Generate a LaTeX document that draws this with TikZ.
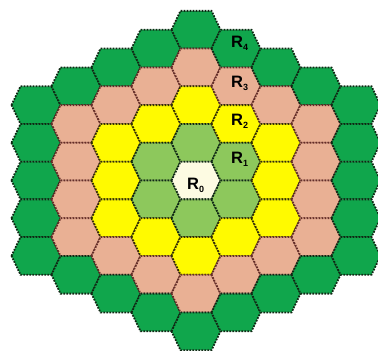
\documentclass[tikz,border=0pt]{standalone}
\usepackage{fontspec}
\setsansfont{Liberation Sans}
\definecolor{ringA}{RGB}{253,251,226}
\definecolor{ringB}{RGB}{141,200,92}
\definecolor{ringC}{RGB}{255,250,0}
\definecolor{ringD}{RGB}{233,176,148}
\definecolor{ringE}{RGB}{16,166,76}
\definecolor{edgeG}{RGB}{15,40,20}
\definecolor{edgeY}{RGB}{50,45,5}
\definecolor{edgeP}{RGB}{100,45,40}
\tikzset{
  hexbase/.style={line width=1.8pt, dash pattern=on 1.7pt off 1.3pt},
  hex0/.style={hexbase, fill=ringA, draw=edgeG},
  hex1/.style={hexbase, fill=ringB, draw=edgeG},
  hex2/.style={hexbase, fill=ringC, draw=edgeY},
  hex3/.style={hexbase, fill=ringD, draw=edgeP},
  hex4/.style={hexbase, fill=ringE, draw=edgeG},
  rlabel/.style={inner sep=0pt, anchor=base west, font=\sffamily\bfseries\fontsize{16.5}{16.5}\selectfont, text=black}
}
\newcommand{\ringsub}[1]{\raisebox{-0.35ex}{\fontsize{9}{9}\selectfont #1}}
\begin{document}
\begin{tikzpicture}[x=1pt,y=-1pt]
\useasboundingbox (0,0) rectangle (378,351);
\fill[white] (0,0) rectangle (378,351);
\foreach \q in {-4,...,4}{
  \foreach \r in {-4,...,4}{
    \pgfmathtruncatemacro{\d}{max(abs(\q),abs(\r),abs(\q+\r))}
    \ifnum\d<5
      \pgfmathsetmacro{\cx}{196+40*\q}
      \pgfmathsetmacro{\cy}{180.5+37.7*(\r+\q/2)}
      \draw[hex\d] (\cx-24.5,\cy) -- (\cx-15.5,\cy-18.85) -- (\cx+15.5,\cy-18.85)
        -- (\cx+24.5,\cy) -- (\cx+15.5,\cy+18.85) -- (\cx-15.5,\cy+18.85) -- cycle;
    \fi
  }
}
\node[rlabel] (r0) at (187,189.5) {R\ringsub{0}};
\node[rlabel] (r1) at (231,163.5) {R\ringsub{1}};
\node[rlabel] (r2) at (231,125.5) {R\ringsub{2}};
\node[rlabel] (r3) at (231,87.5) {R\ringsub{3}};
\node[rlabel] (r4) at (231,47.5) {R\ringsub{4}};
\end{tikzpicture}
\end{document}
